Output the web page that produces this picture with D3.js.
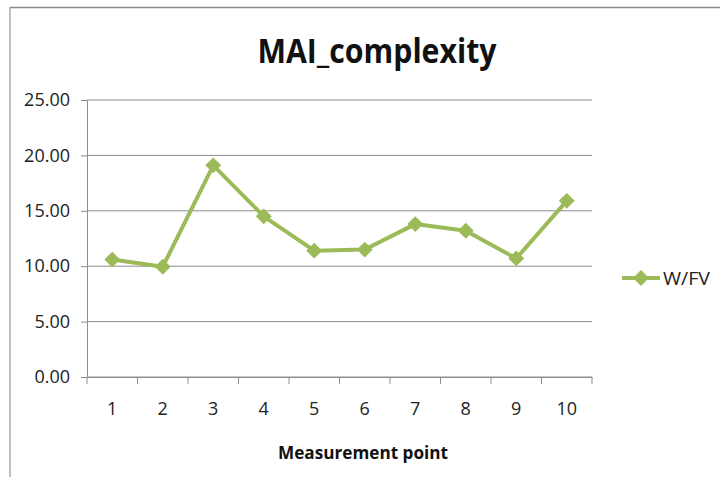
<!DOCTYPE html>
<html>
<head>
<meta charset="utf-8">
<script src="https://cdn.jsdelivr.net/npm/d3@7"></script>
<style>
  body { margin: 0; background: #fff; }
  svg { display: block; }
</style>
</head>
<body>
<svg id="chart" width="720" height="477"></svg>
<script>
let points = [1, 2, 3, 4, 5, 6, 7, 8, 9, 10];
let values = [10.6, 9.95, 19.1, 14.5, 11.4, 11.5, 13.8, 13.2, 10.7, 15.9];
let yTicks = [0, 5, 10, 15, 20, 25];
let seriesName = "W/FV";
let chartTitle = "MAI_complexity";
let xTitle = "Measurement point";

let width = 720, height = 477;
let green = "#9bbb59";
let font = "'Open Sans', 'DejaVu Sans', sans-serif";

let svg = d3.select("#chart");

// chart frame (only top and left edges visible in the picture)
svg.append("line")
    .attr("x1", 10).attr("x2", width).attr("y1", 7.5).attr("y2", 7.5)
    .attr("stroke", "#888").attr("stroke-width", 1.5);
svg.append("line")
    .attr("x1", 10).attr("x2", 10).attr("y1", 7).attr("y2", height)
    .attr("stroke", "#aaa").attr("stroke-width", 1.5);

let xScale = d3.scaleBand()
    .domain(points)
    .range([87, 592]);

let yScale = d3.scaleLinear()
    .domain([0, 25])
    .range([377, 100]);

// gridlines
svg.selectAll(".grid")
    .data(yTicks)
    .enter()
    .append("line")
    .attr("x1", 87)
    .attr("x2", 592)
    .attr("y1", d => yScale(d))
    .attr("y2", d => yScale(d))
    .attr("stroke", "#8c8c8c")
    .attr("stroke-width", 1);

// y axis
let yAxis = svg.append("g")
    .attr("transform", "translate(87,0)")
    .call(d3.axisLeft(yScale).tickValues(yTicks).tickSize(6).tickFormat(d3.format(".2f")));
yAxis.select(".domain").attr("stroke", "#8c8c8c");
yAxis.selectAll(".tick line").attr("stroke", "#8c8c8c");
yAxis.selectAll("text")
    .attr("x", -17)
    .style("font-family", font)
    .style("font-size", "18px")
    .style("fill", "#222");

// x axis with ticks at band edges
let xAxis = svg.append("g")
    .attr("transform", "translate(0,377)")
    .call(d3.axisBottom(xScale).tickSize(0).tickPadding(25));
xAxis.select(".domain").attr("stroke", "#8c8c8c");
xAxis.selectAll("text")
    .style("font-family", font)
    .style("font-size", "18px")
    .style("fill", "#222");
svg.selectAll(".xtick")
    .data(points.concat([null]))
    .enter()
    .append("line")
    .attr("x1", (d, i) => i < points.length ? xScale(d) : xScale(points[points.length - 1]) + xScale.bandwidth())
    .attr("x2", (d, i) => i < points.length ? xScale(d) : xScale(points[points.length - 1]) + xScale.bandwidth())
    .attr("y1", 377)
    .attr("y2", 384)
    .attr("stroke", "#8c8c8c");

// series line
let line = d3.line()
    .x((d, i) => xScale(points[i]) + xScale.bandwidth() / 2)
    .y(d => yScale(d));

svg.append("path")
    .datum(values)
    .attr("d", line)
    .attr("fill", "none")
    .attr("stroke", green)
    .attr("stroke-width", 4)
    .attr("stroke-linejoin", "round");

let diamond = d3.symbol().type(d3.symbolDiamond2).size(160);
svg.selectAll(".marker")
    .data(values)
    .enter()
    .append("path")
    .attr("d", diamond)
    .attr("transform", (d, i) => "translate(" + (xScale(points[i]) + xScale.bandwidth() / 2) + "," + yScale(d) + ")")
    .attr("fill", green);

// title
svg.append("text")
    .attr("x", 377)
    .attr("y", 63)
    .attr("text-anchor", "middle")
    .attr("textLength", 239)
    .attr("lengthAdjust", "spacingAndGlyphs")
    .style("font-family", font)
    .style("font-weight", "bold")
    .style("font-size", "34px")
    .style("fill", "#111")
    .text(chartTitle);

// x axis title
svg.append("text")
    .attr("x", 363)
    .attr("y", 459)
    .attr("text-anchor", "middle")
    .attr("textLength", 170)
    .attr("lengthAdjust", "spacingAndGlyphs")
    .style("font-family", font)
    .style("font-weight", "bold")
    .style("font-size", "17px")
    .style("fill", "#111")
    .text(xTitle);

// legend
let legend = svg.append("g").attr("transform", "translate(622,278)");
legend.append("line")
    .attr("x1", 0).attr("x2", 38).attr("y1", 0).attr("y2", 0)
    .attr("stroke", green).attr("stroke-width", 4);
legend.append("path")
    .attr("d", diamond)
    .attr("transform", "translate(19,0)")
    .attr("fill", green);
legend.append("text")
    .attr("x", 41)
    .attr("y", 7)
    .attr("textLength", 47)
    .attr("lengthAdjust", "spacingAndGlyphs")
    .style("font-family", font)
    .style("font-size", "19px")
    .style("fill", "#222")
    .text(seriesName);
</script>
</body>
</html>
